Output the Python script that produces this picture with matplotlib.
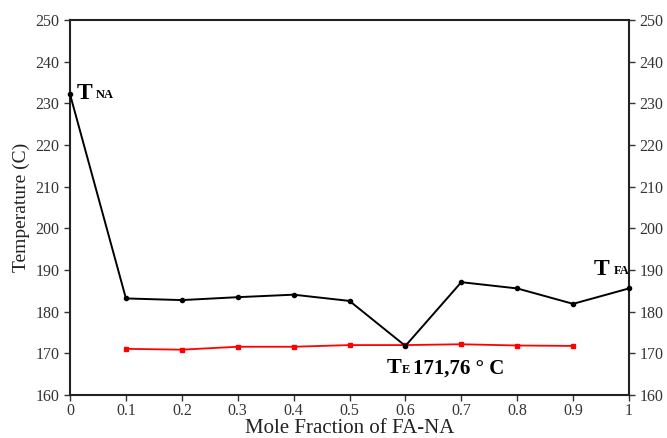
import matplotlib.pyplot as plt

plt.rcParams['font.family'] = ['Liberation Serif', 'DejaVu Serif']

# liquidus (black) and eutectic (red) temperatures
x_liq = [0, 0.1, 0.2, 0.3, 0.4, 0.5, 0.6, 0.7, 0.8, 0.9, 1.0]
t_liq = [232.2, 183.2, 182.8, 183.5, 184.1, 182.6, 171.8, 187.1, 185.6, 181.9, 185.6]
x_eut = [0.1, 0.2, 0.3, 0.4, 0.5, 0.6, 0.7, 0.8, 0.9]
t_eut = [171.1, 170.9, 171.6, 171.6, 172.0, 172.0, 172.2, 171.9, 171.8]

xticks = [0, 0.1, 0.2, 0.3, 0.4, 0.5, 0.6, 0.7, 0.8, 0.9, 1]
xlabels = ['0', '0.1', '0.2', '0.3', '0.4', '0.5', '0.6', '0.7', '0.8', '0.9', '1']
yticks = list(range(160, 251, 10))

fig = plt.figure(figsize=(6.67, 4.38), dpi=100)
ax = fig.add_axes([0.105, 0.098, 0.838, 0.856])

ax.plot(x_eut, t_eut, color='red', lw=1.3, marker='s', ms=2.2, zorder=2)
ax.plot(x_liq, t_liq, color='black', lw=1.4, marker='o', ms=3.0, zorder=3, clip_on=False)

ax.set_xlim(0, 1)
ax.set_ylim(160, 250)
ax.set_xticks(xticks)
ax.set_xticklabels(xlabels)
ax.set_yticks(yticks)
ax.tick_params(axis='both', labelsize=11.5, direction='out', length=4, width=1,
               colors='#333333', labelcolor='#333333')
ax.tick_params(axis='x', pad=2)
ax.tick_params(axis='y', right=True, labelright=True)
for s in ax.spines.values():
    s.set_linewidth(1.5)
    s.set_color('#222222')

ax.set_xlabel('Mole Fraction of FA-NA', fontsize=15, color='#222222', labelpad=0)
ax.set_ylabel('Temperature (C)', fontsize=14, color='#222222', labelpad=4)

# annotations
ax.text(0.012, 232.5, 'T', fontsize=17, fontweight='bold', va='center', ha='left')
ax.text(0.046, 232.0, 'NA', fontsize=9, fontweight='bold', va='center', ha='left')
ax.text(0.937, 190.2, 'T', fontsize=17, fontweight='bold', va='center', ha='left')
ax.text(0.972, 189.8, 'FA', fontsize=9, fontweight='bold', va='center', ha='left')
ax.text(0.567, 166.4, 'T', fontsize=16, fontweight='bold', va='center', ha='left')
ax.text(0.594, 166.0, 'E', fontsize=9, fontweight='bold', va='center', ha='left')
ax.text(0.613, 166.4, '171,76 ° C', fontsize=15, fontweight='bold', va='center', ha='left')

fig.savefig('out.png', dpi=100)
